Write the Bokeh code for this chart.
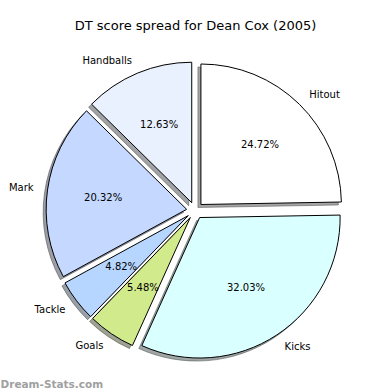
import math
from bokeh.plotting import figure
from bokeh.models import Range1d, ColumnDataSource
from bokeh.core.properties import value
from bokeh.embed import file_html
from bokeh.resources import INLINE

# ---- data ----
title = "DT score spread for Dean Cox (2005)"
labels = ["Hitout", "Kicks", "Goals", "Tackle", "Mark", "Handballs"]
shares = [24.72, 32.03, 5.48, 4.82, 20.32, 12.63]
colors = ["#ffffff", "#d9ffff", "#d1ea8b", "#b6d6ff", "#c5d8ff", "#e9f0fe"]
watermark = "Dream-Stats.com"

# ---- layout (in picture pixel units, y up) ----
W = H = 390
CX, CY = 194.5, 180.0
R = 140.5
EXPLODE = 0.06 * R
SHADOW_DX, SHADOW_DY = -3.0, -3.0
FONT = "DejaVu Sans"

p = figure(width=W, height=H, output_backend="svg", toolbar_location=None,
           x_range=Range1d(0, W), y_range=Range1d(390 - H, 390),
           min_border=0, outline_line_color=None)
p.axis.visible = False
p.grid.visible = False
p.background_fill_color = "white"
p.border_fill_color = "white"

total = sum(shares)
starts, ends, xs, ys, mids = [], [], [], [], []
cum = 0.0
for v in shares:
    a0 = 90.0 - cum / total * 360.0
    cum += v
    a1 = 90.0 - cum / total * 360.0
    m = math.radians((a0 + a1) / 2)
    starts.append(math.radians(a1))
    ends.append(math.radians(a0))
    mids.append(m)
    xs.append(CX + EXPLODE * math.cos(m))
    ys.append(CY + EXPLODE * math.sin(m))

def shade(c):
    r, g, b = int(c[1:3], 16), int(c[3:5], 16), int(c[5:7], 16)
    return "#%02x%02x%02x" % (int(r * 0.3), int(g * 0.3), int(b * 0.3))

src = ColumnDataSource(dict(x=xs, y=ys, sx=[x + SHADOW_DX for x in xs],
                            sy=[y + SHADOW_DY for y in ys],
                            start=starts, end=ends, color=colors,
                            shadow=[shade(c) for c in colors]))

p.wedge(x="sx", y="sy", radius=R, start_angle="start", end_angle="end",
        fill_color="shadow", fill_alpha=0.5, line_color="shadow", line_alpha=0.5,
        line_width=1, source=src)
p.wedge(x="x", y="y", radius=R, start_angle="start", end_angle="end",
        fill_color="color", line_color="black", line_width=1, source=src)

# percentage texts
pct_x = [x + 0.6 * R * math.cos(m) for x, m in zip(xs, mids)]
pct_y = [y + 0.6 * R * math.sin(m) for y, m in zip(ys, mids)]
p.text(x=pct_x, y=pct_y, text=["%.2f%%" % v for v in shares],
       text_font=value(FONT), text_font_size="10px", text_color="black",
       text_align="center", text_baseline="middle")

# category labels
lab_x = [x + 1.1 * R * math.cos(m) for x, m in zip(xs, mids)]
lab_y = [y + 1.1 * R * math.sin(m) for y, m in zip(ys, mids)]
lsrc = ColumnDataSource(dict(x=lab_x, y=lab_y, text=labels,
                             align=["left" if math.cos(m) > 0 else "right" for m in mids]))
p.text(x="x", y="y", text="text", text_align="align", source=lsrc,
       text_font=value(FONT), text_font_size="10px", text_color="black",
       text_baseline="middle")

# title
p.text(x=[195], y=[390 - 25], text=[title], text_font=value(FONT),
       text_font_size="13px", text_color="black", text_align="center",
       text_baseline="middle")

# watermark
p.text(x=[0], y=[390 - 383], text=[watermark], text_font=value(FONT),
       text_font_style="bold", text_font_size="10.5px", text_color="#a0a0a0",
       text_align="left", text_baseline="alphabetic")

open("out.html", "w").write(file_html(p, INLINE))
